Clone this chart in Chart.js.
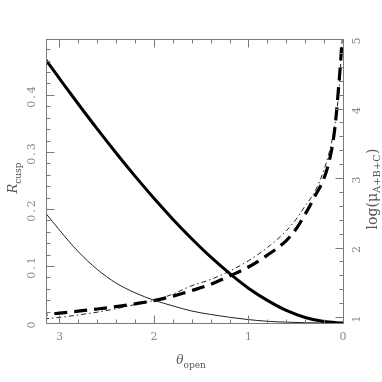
<!DOCTYPE html>
<html><head><meta charset="utf-8">
<script src="https://cdn.jsdelivr.net/npm/chart.js@4.4.0/dist/chart.umd.min.js"></script>
<style>html,body{margin:0;padding:0;background:#fff;}canvas{display:block;}</style>
</head><body>
<canvas id="c" width="382" height="382"></canvas>
<script>
// ---- data ----
const thetaSolid = [0, 0.2, 0.4, 0.6, 0.8, 1.0, 1.2, 1.4, 1.6, 1.8, 2.0, 2.2, 2.4, 2.6, 2.8, 3.0, 3.1416];
const rcuspThick = [0, 0.0025, 0.0097, 0.022, 0.0396, 0.061, 0.087, 0.1158, 0.1477, 0.1821, 0.2188, 0.2575, 0.2981, 0.3403, 0.384, 0.4289, 0.461];
const rcuspThin  = [0, 0, 0.0005, 0.0015, 0.003, 0.006, 0.010, 0.015, 0.021, 0.030, 0.040, 0.053, 0.070, 0.094, 0.125, 0.163, 0.192];

const thetaDashed = [0.015, 0.03, 0.05, 0.07, 0.1, 0.15, 0.2, 0.3, 0.4, 0.5, 0.6, 0.8, 1.0, 1.2, 1.4, 1.6, 1.8, 2.0, 2.2, 2.4, 2.6, 2.8, 3.0, 3.1416];
const logMuThick  = [4.88, 4.58, 4.25, 3.93, 3.57, 3.22, 3.00, 2.73, 2.48, 2.26, 2.10, 1.89, 1.72, 1.59, 1.47, 1.38, 1.30, 1.235, 1.19, 1.15, 1.115, 1.085, 1.055, 1.035];

const thetaDotDash = [0.008, 0.015, 0.03, 0.05, 0.07, 0.1, 0.15, 0.2, 0.3, 0.4, 0.5, 0.6, 0.8, 1.0, 1.2, 1.4, 1.6, 1.8, 2.0, 2.2, 2.4, 2.6, 2.8, 3.0, 3.1416];
const logMuThin    = [5.0, 4.87, 4.50, 4.15, 3.92, 3.65, 3.35, 3.12, 2.80, 2.60, 2.40, 2.24, 2.00, 1.81, 1.66, 1.54, 1.45, 1.33, 1.24, 1.18, 1.12, 1.07, 1.03, 0.995, 0.975];

const xTickValues = [0, 1, 2, 3];
const xTickLabels = ['0', '1', '2', '3'];
const leftTickValues = [0, 0.1, 0.2, 0.3, 0.4];
const leftTickLabels = ['0', '0.1', '0.2', '0.3', '0.4'];
const rightTickValues = [1, 2, 3, 4, 5];
const rightTickLabels = ['1', '2', '3', '4', '5'];

const xTitle = ['θ', 'open'];
const leftTitle = ['R', 'cusp'];
const rightTitle = ['log(μ', 'A+B+C', ')'];

const pts = (xs, ys) => xs.map((x, i) => ({x, y: ys[i]}));

const GRAY = '#7a7a7a';
const LABEL = '#8a8a8a';

function drawRich(ctx, parts, x, y, rot) {
  ctx.save();
  ctx.translate(x, y);
  ctx.rotate(rot);
  let total = 0;
  parts.forEach(p => { ctx.font = p.font; p.w = ctx.measureText(p.t).width; total += p.w; });
  let cx = -total / 2;
  ctx.textBaseline = 'alphabetic';
  ctx.textAlign = 'left';
  parts.forEach(p => { ctx.font = p.font; ctx.fillStyle = p.color; ctx.fillText(p.t, cx, p.dy); cx += p.w; });
  ctx.restore();
}

const frameTicks = {
  id: 'frameTicks',
  afterDraw(chart) {
    const ctx = chart.ctx, a = chart.chartArea;
    const sx = chart.scales.x, yl = chart.scales.yL, yr = chart.scales.yR;
    const L = Math.round(a.left) + 0.5, R = Math.round(a.right) + 0.5;
    const T = Math.round(a.top) + 0.5, B = Math.round(a.bottom) + 0.5;
    ctx.save();
    ctx.strokeStyle = GRAY; ctx.lineWidth = 1;
    ctx.strokeRect(L, T, R - L, B - T);
    ctx.beginPath();
    for (let i = 0; i <= 15; i++) {
      const v = i * 0.2, major = i % 5 === 0, len = major ? 8 : 4;
      const p = Math.round(sx.getPixelForValue(v)) + 0.5;
      ctx.moveTo(p, B); ctx.lineTo(p, B - len);
      ctx.moveTo(p, T); ctx.lineTo(p, T + len);
    }
    for (let i = 0; i <= 24; i++) {
      const v = i * 0.02, major = i % 5 === 0, len = major ? 8 : 4;
      const p = Math.round(yl.getPixelForValue(v)) + 0.5;
      ctx.moveTo(L, p); ctx.lineTo(L + len, p);
    }
    for (let i = 0; i <= 20; i++) {
      const v = 1 + i * 0.2, major = i % 5 === 0, len = major ? 8 : 4;
      const p = Math.round(yr.getPixelForValue(v)) + 0.5;
      ctx.moveTo(R, p); ctx.lineTo(R - len, p);
    }
    ctx.stroke();

    ctx.fillStyle = LABEL;
    ctx.font = '11px "DejaVu Serif"';
    ctx.letterSpacing = '2px';
    ctx.textAlign = 'center'; ctx.textBaseline = 'middle';
    xTickValues.forEach((v, i) => {
      ctx.fillText(xTickLabels[i], sx.getPixelForValue(v) + 1, 337);
    });
    leftTickValues.forEach((v, i) => {
      ctx.save(); ctx.translate(32, yl.getPixelForValue(v) + 1); ctx.rotate(-Math.PI / 2);
      ctx.fillText(leftTickLabels[i], 0, 0); ctx.restore();
    });
    rightTickValues.forEach((v, i) => {
      ctx.save(); ctx.translate(357, yr.getPixelForValue(v) + 1); ctx.rotate(-Math.PI / 2);
      ctx.fillText(rightTickLabels[i], 0, 0); ctx.restore();
    });
    ctx.letterSpacing = '0px';

    const c = '#555';
    drawRich(ctx, [
      {t: xTitle[0], font: 'italic 12px "DejaVu Serif"', dy: 0, color: c},
      {t: xTitle[1], font: '9px "DejaVu Serif"', dy: 4, color: c}
    ], 191, 364, 0);
    drawRich(ctx, [
      {t: leftTitle[0], font: 'italic 13px "DejaVu Serif"', dy: 0, color: c},
      {t: leftTitle[1], font: '9px "DejaVu Serif"', dy: 4, color: c}
    ], 17, 178, -Math.PI / 2);
    drawRich(ctx, [
      {t: rightTitle[0], font: '14px "DejaVu Serif"', dy: 0, color: c},
      {t: rightTitle[1], font: '10px "DejaVu Serif"', dy: 3, color: c},
      {t: rightTitle[2], font: '14px "DejaVu Serif"', dy: 0, color: c}
    ], 377, 189, -Math.PI / 2);
    ctx.restore();
  }
};

new Chart(document.getElementById('c'), {
  type: 'line',
  data: {
    datasets: [
      {data: pts(thetaSolid, rcuspThick), yAxisID: 'yL', borderColor: '#000', borderWidth: 3},
      {data: pts(thetaSolid, rcuspThin), yAxisID: 'yL', borderColor: '#222', borderWidth: 1},
      {data: pts(thetaDashed, logMuThick), yAxisID: 'yR', borderColor: '#000', borderWidth: 3.2, borderDash: [13, 7]},
      {data: pts(thetaDotDash, logMuThin), yAxisID: 'yR', borderColor: '#222', borderWidth: 1, borderDash: [5, 3, 1.5, 3]}
    ]
  },
  options: {
    responsive: false,
    animation: false,
    devicePixelRatio: 1,
    layout: {padding: {left: 46, top: 39, right: 39, bottom: 59}},
    elements: {point: {radius: 0}, line: {cubicInterpolationMode: 'monotone', fill: false}},
    plugins: {legend: {display: false}, tooltip: {enabled: false}},
    scales: {
      x: {type: 'linear', min: 0, max: Math.PI, reverse: true, display: false},
      yL: {type: 'linear', position: 'left', min: 0, max: 0.498, display: false},
      yR: {type: 'linear', position: 'right', min: 0.914, max: 5.0, display: false}
    }
  },
  plugins: [frameTicks]
});
</script>
</body></html>
